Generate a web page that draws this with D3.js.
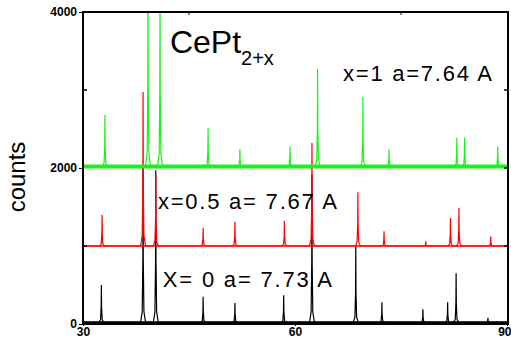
<!DOCTYPE html>
<html>
<head>
<meta charset="utf-8">
<script src="https://cdn.jsdelivr.net/npm/d3@7"></script>
<style>
  body { margin: 0; background: #fff; }
  text { font-family: "Liberation Sans", Arial, sans-serif; }
</style>
</head>
<body>
<div id="chart"></div>
<script>
// peak positions (2theta) and heights above each trace's baseline
const blackPos = [32.6, 38.5, 40.3, 47.0, 51.5, 58.4, 62.4, 68.6, 72.3, 78.1, 81.6, 82.8, 87.3];
const blackH   = [480, 2000, 1950, 330, 250, 350, 1900, 990, 260, 170, 260, 630, 60];
const redPos   = [32.7, 38.5, 40.3, 47.0, 51.5, 58.5, 62.4, 68.9, 72.6, 78.5, 82.0, 83.2, 87.7];
const redH     = [400, 1975, 910, 230, 310, 320, 1320, 690, 190, 60, 360, 490, 120];
const greenPos = [33.1, 39.2, 40.9, 47.7, 52.2, 59.3, 63.2, 69.6, 73.3, 82.9, 84.0, 88.7];
const greenH   = [660, 2600, 2400, 490, 220, 260, 1250, 890, 220, 370, 370, 260];
const offsets  = [20, 1000, 2020];

const xTicks = [30, 60, 90];
const yTicks = [0, 2000, 4000];

const width = 511, height = 344;
const svg = d3.select('#chart').append('svg')
  .attr('width', width).attr('height', height);

const x = d3.scaleLinear().domain([30, 90]).range([83, 507]);
const y = d3.scaleLinear().domain([0, 4000]).range([324, 12]);

svg.append('clipPath').attr('id', 'clip')
  .append('rect').attr('x', 83).attr('y', 12).attr('width', 425).attr('height', 312);

//build a narrow spike for each peak
function profile(pos, h, base) {
  const pts = [[30, base]];
  pos.forEach((p, i) => {
    pts.push([p - 0.35, base]);
    pts.push([p - 0.12, base + h[i] * 0.07]);
    pts.push([p - 0.03, base + h[i] * 0.4]);
    pts.push([p, base + h[i]]);
    pts.push([p + 0.03, base + h[i] * 0.4]);
    pts.push([p + 0.12, base + h[i] * 0.07]);
    pts.push([p + 0.35, base]);
  });
  pts.push([90, base]);
  return pts;
}

const line = d3.line().x(d => x(d[0])).y(d => y(d[1]));
const g = svg.append('g').attr('clip-path', 'url(#clip)');

const series = [
  { pos: blackPos, h: blackH, base: offsets[0], color: '#000', band: 2.5 },
  { pos: redPos, h: redH, base: offsets[1], color: '#ff0000', band: 1.5 },
  { pos: greenPos, h: greenH, base: offsets[2], color: '#1ef01e', band: 4 }
];

series.forEach(s => {
  g.append('path')
    .datum([[30, s.base], [90, s.base]])
    .attr('d', line)
    .attr('stroke', s.color).attr('stroke-width', s.band).attr('fill', 'none');
  g.append('path')
    .datum(profile(s.pos, s.h, s.base))
    .attr('d', line)
    .attr('stroke', s.color).attr('stroke-width', 1.2).attr('fill', 'none');
});

// frame
svg.append('rect')
  .attr('x', x(30)).attr('y', y(4000))
  .attr('width', x(90) - x(30) + 1).attr('height', y(0) - y(4000))
  .attr('fill', 'none').attr('stroke', '#000').attr('stroke-width', 2);

// axes
const yAxis = d3.axisLeft(y).tickValues(yTicks).tickSize(4).tickPadding(2).tickFormat(d3.format('d'));
const ya = svg.append('g').attr('transform', `translate(${x(30)},0)`).call(yAxis);
ya.select('.domain').remove();
ya.selectAll('text').style('font-size', '12px').style('font-weight', 'bold')
  .style('font-family', '"Liberation Sans", Arial, sans-serif');

const xAxis = d3.axisBottom(x).tickValues(xTicks).tickSize(2).tickPadding(1).tickFormat(d3.format('d'));
const xa = svg.append('g').attr('transform', `translate(0,${y(0)})`).call(xAxis);
xa.select('.domain').remove();
xa.selectAll('text').style('font-size', '12px').style('font-weight', 'bold')
  .style('font-family', '"Liberation Sans", Arial, sans-serif');
// keep the last label inside the window
xa.selectAll('text').filter(d => d === 90).attr('text-anchor', 'end').attr('dx', 4);

// minor inner ticks
[1000, 3000].forEach(v => {
  svg.append('line').attr('x1', x(30)).attr('x2', x(30) + 4).attr('y1', y(v)).attr('y2', y(v))
    .attr('stroke', '#000').attr('stroke-width', 1.5);
});
[1000, 2000, 3000].forEach(v => {
  svg.append('line').attr('x1', x(90) + 1).attr('x2', x(90) - 3).attr('y1', y(v)).attr('y2', y(v))
    .attr('stroke', '#000').attr('stroke-width', 1.5);
});
[45, 75].forEach(v => {
  svg.append('line').attr('x1', x(v)).attr('x2', x(v)).attr('y1', y(4000)).attr('y2', y(4000) + 3)
    .attr('stroke', '#000').attr('stroke-width', 1);
});

// y label
svg.append('text')
  .attr('transform', 'translate(25,177) rotate(-90)')
  .attr('text-anchor', 'middle')
  .style('font-size', '24px')
  .text('counts');

// title
const title = svg.append('text').attr('x', x(42.3)).attr('y', y(3474)).style('font-size', '32px');
title.append('tspan').text('CePt');
title.append('tspan').attr('dy', 12).style('font-size', '20px').text('2+x');

// annotations
const notes = [
  { t: 'x=1 a=7.64 A', x: 66.8, y: 3110, len: 149 },
  { t: 'x=0.5 a= 7.67 A', x: 40.6, y: 1475, len: 179 },
  { t: 'X= 0 a= 7.73 A', x: 41.3, y: 475, len: 169 }
];
notes.forEach(n => {
  svg.append('text').attr('x', x(n.x)).attr('y', y(n.y))
    .attr('textLength', n.len).attr('lengthAdjust', 'spacing')
    .style('font-size', '22px').text(n.t);
});
</script>
</body>
</html>
